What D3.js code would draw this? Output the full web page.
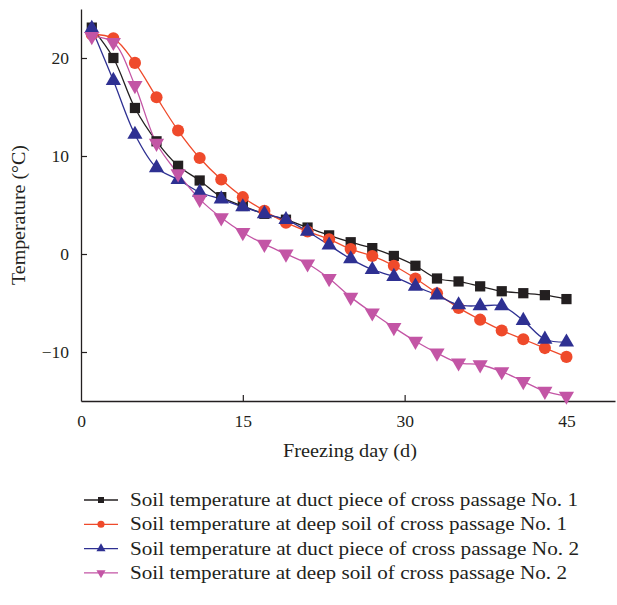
<!DOCTYPE html>
<html>
<head>
<meta charset="utf-8">
<script src="https://cdn.jsdelivr.net/npm/d3@7"></script>
<style>
  body { margin: 0; background: #fff; }
  text { font-family: "Liberation Serif", "DejaVu Serif", serif; fill: #231f20; }
</style>
</head>
<body>
<svg id="chart" width="617" height="605"></svg>
<script>
const width = 617;
const height = 605;

// Data
const days = [1, 3, 5, 7, 9, 11, 13, 15, 17, 19, 21, 23, 25, 27, 29, 31, 33, 35, 37, 39, 41, 43, 45];
const ductNo1 = [23.1, 20, 14.9, 11.5, 9, 7.5, 5.8, 4.9, 4.1, 3.5, 2.7, 1.9, 1.2, 0.6, -0.2, -1.2, -2.5, -2.8, -3.3, -3.8, -4.0, -4.2, -4.6];
const deepNo1 = [22.4, 22, 19.5, 16, 12.6, 9.8, 7.6, 5.8, 4.4, 3.2, 2.3, 1.5, 0.5, -0.2, -1.2, -2.5, -4.0, -5.5, -6.7, -7.8, -8.7, -9.6, -10.5];
const ductNo2 = [23, 17.7, 12.2, 8.8, 7.6, 6.3, 5.6, 4.8, 4.1, 3.5, 2.3, 0.9, -0.5, -1.6, -2.3, -3.3, -4.2, -5.2, -5.3, -5.3, -6.8, -8.7, -9.0];
const deepNo2 = [22.2, 21.6, 17.2, 11.3, 8.2, 5.6, 3.7, 2.2, 1.0, 0.0, -1.0, -2.5, -4.4, -6.0, -7.5, -8.9, -10.1, -11.1, -11.3, -12.0, -13.0, -14.0, -14.5];

const seriesNames = [
  "Soil temperature at duct piece of cross passage No. 1",
  "Soil temperature at deep soil of cross passage No. 1",
  "Soil temperature at duct piece of cross passage No. 2",
  "Soil temperature at deep soil of cross passage No. 2"
];
const seriesValues = [ductNo1, deepNo1, ductNo2, deepNo2];
const seriesColors = ["#231f20", "#ef4a2b", "#2e3092", "#c355a5"];
const seriesSymbols = [d3.symbolSquare, d3.symbolCircle, d3.symbolTriangle, d3.symbolTriangle];

const xTicks = [0, 15, 30, 45];
const yTicks = [-10, 0, 10, 20];

const svg = d3.select("#chart");

// Plot area
const x = d3.scaleLinear().domain([0, 49.5]).range([81, 615]);
const y = d3.scaleLinear().domain([-15, 25]).range([401, 9]);

// Axes (ticks point inward)
const xAxis = d3.axisBottom(x).tickValues(xTicks).tickSizeInner(-6).tickSizeOuter(0).tickPadding(14);
const yAxis = d3.axisLeft(y).tickValues(yTicks).tickSizeInner(-6).tickSizeOuter(0).tickPadding(12)
    .tickFormat(d => d < 0 ? "\u2212" + Math.abs(d) : d);

const gx = svg.append("g").attr("transform", `translate(0,${y(-15)})`).call(xAxis);
const gy = svg.append("g").attr("transform", `translate(${x(0)},0)`).call(yAxis);

[gx, gy].forEach(g => {
  g.select(".domain").attr("stroke", "#231f20").attr("stroke-width", 1.3);
  g.selectAll(".tick line").attr("stroke", "#231f20").attr("stroke-width", 1.2);
  g.selectAll(".tick text").attr("font-size", "17.5px").attr("font-family", "Liberation Serif, serif").attr("fill", "#231f20");
});
gx.selectAll(".tick").filter(d => d === 0).select("line").remove();

// Axis titles
svg.append("text")
    .attr("x", 350)
    .attr("y", 457)
    .attr("text-anchor", "middle")
    .attr("font-size", "18.5px")
    .attr("textLength", 134)
    .attr("lengthAdjust", "spacingAndGlyphs")
    .text("Freezing day (d)");

svg.append("text")
    .attr("transform", "translate(25,215) rotate(-90)")
    .attr("text-anchor", "middle")
    .attr("font-size", "18.5px")
    .attr("textLength", 140)
    .attr("lengthAdjust", "spacingAndGlyphs")
    .text("Temperature (\u00b0C)");

// Lines and markers
const line = d3.line()
    .x(d => x(d[0]))
    .y(d => y(d[1]))
    .curve(d3.curveCatmullRom.alpha(0.5));

seriesValues.forEach((vals, i) => {
  const pts = days.map((d, j) => [d, vals[j]]);
  svg.append("path")
      .datum(pts)
      .attr("d", line)
      .attr("fill", "none")
      .attr("stroke", seriesColors[i])
      .attr("stroke-width", 1.3);
});

seriesValues.forEach((vals, i) => {
  const sym = d3.symbol().type(seriesSymbols[i]).size(i === 1 ? 115 : (i === 0 ? 105 : 100));
  svg.append("g").selectAll("path")
    .data(days.map((d, j) => [d, vals[j]]))
    .enter()
    .append("path")
      .attr("d", sym)
      .attr("transform", d => `translate(${x(d[0])},${y(d[1])})${i === 3 ? " rotate(180)" : ""}`)
      .attr("fill", seriesColors[i]);
});

// Legend
const legendWidths = [448, 437, 449, 437];
const legend = svg.append("g");
seriesNames.forEach((name, i) => {
  const ly = 500 + i * 24.3;
  legend.append("line")
      .attr("x1", 84).attr("x2", 118)
      .attr("y1", ly).attr("y2", ly)
      .attr("stroke", seriesColors[i])
      .attr("stroke-width", 1.3);
  legend.append("path")
      .attr("d", d3.symbol().type(seriesSymbols[i]).size(i === 1 ? 40 : 36))
      .attr("transform", `translate(101,${ly})${i === 3 ? " rotate(180)" : ""}`)
      .attr("fill", seriesColors[i]);
  legend.append("text")
      .attr("x", 130)
      .attr("y", ly + 6)
      .attr("font-size", "18px")
      .attr("textLength", legendWidths[i])
      .attr("lengthAdjust", "spacingAndGlyphs")
      .text(name);
});
</script>
</body>
</html>
